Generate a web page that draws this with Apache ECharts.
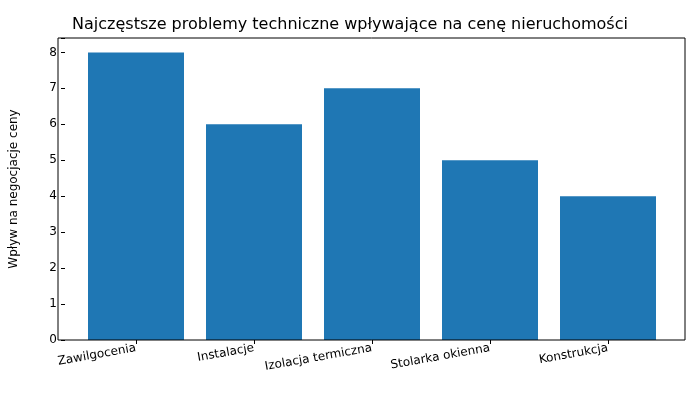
<!DOCTYPE html>
<html>
<head>
<meta charset="UTF-8">
<script src="https://cdn.jsdelivr.net/npm/echarts@6/dist/echarts.min.js"></script>
<style>
  html, body { margin: 0; background: #fff; }
  #chart { width: 700px; height: 400px; }
</style>
</head>
<body>
<div id="chart"></div>
<script>
  var categories = ['Zawilgocenia', 'Instalacje', 'Izolacja termiczna', 'Stolarka okienna', 'Konstrukcja'];
  var values = [8, 6, 7, 5, 4];
  var font = 'DejaVu Sans';

  var chart = echarts.init(document.getElementById('chart'));
  chart.setOption({
    animation: false,
    textStyle: { fontFamily: font },
    title: {
      text: 'Najczęstsze problemy techniczne wpływające na cenę nieruchomości',
      left: 'center', top: 12,
      textStyle: { fontFamily: font, fontSize: 16, fontWeight: 'normal', color: '#000' }
    },
    // frame of the plot area (matplotlib style)
    graphic: [{
      type: 'rect', shape: { x: 58, y: 38, width: 627, height: 302 },
      style: { fill: null, stroke: '#000', lineWidth: 1 }, z: 10
    }],
    grid: { left: 70, right: 33, top: 38, bottom: 60 },
    xAxis: {
      type: 'category', data: categories,
      axisLine: { show: false },
      axisTick: { show: true, alignWithLabel: true, length: 4, lineStyle: { color: '#000' } },
      axisLabel: { rotate: 10, color: '#000', fontSize: 12, margin: 8, fontFamily: font }
    },
    yAxis: {
      type: 'value', min: 0, max: 8.4, interval: 1,
      name: 'Wpływ na negocjacje ceny', nameLocation: 'middle', nameGap: 45,
      nameTextStyle: { color: '#000', fontSize: 12, fontFamily: font },
      offset: 12,
      axisLine: { show: false },
      axisTick: { show: true, length: 4, lineStyle: { color: '#000' } },
      splitLine: { show: false },
      axisLabel: {
        color: '#000', fontSize: 12, fontFamily: font,
        formatter: function (v) { return Number.isInteger(v) ? v : ''; }
      }
    },
    series: [{
      type: 'bar', data: values, barWidth: 96,
      itemStyle: { color: '#1f77b4' }
    }]
  });
</script>
</body>
</html>
